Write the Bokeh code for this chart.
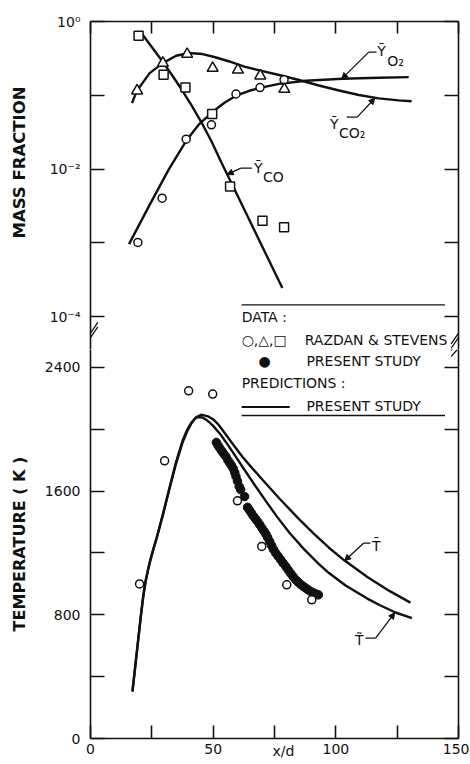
from bokeh.plotting import figure
from bokeh.models import Range1d, FixedTicker, LinearAxis, LogAxis, Label, Arrow, NormalHead
from bokeh.layouts import column
from bokeh.embed import file_html
from bokeh.resources import INLINE

FONT = "DejaVu Sans"

# ---------------- data: mass fractions (Razdan & Stevens) ----------------
x_o2 = [19.3, 29.2, 39.0, 49.3, 59.3, 69.1, 78.9]
y_o2 = [0.00101, 0.00403, 0.0254, 0.0398, 0.104, 0.127, 0.162]
x_co2 = [19.0, 29.5, 39.4, 49.8, 60.1, 69.2, 79.0]
y_co2 = [0.115, 0.273, 0.361, 0.233, 0.221, 0.184, 0.121]
x_co = [19.6, 29.8, 38.7, 49.6, 56.9, 70.1, 78.9]
y_co = [0.64, 0.19, 0.127, 0.0555, 0.0058, 0.00199, 0.00162]

# predictions (present study)
xp_o2 = [15.7, 24.1, 31.8, 39.0, 44.4, 49.8, 54.6, 59.3, 64.7, 69.1, 76.9, 87.7, 102.6, 117.5, 129.7]
yp_o2 = [0.000959, 0.00327, 0.00975, 0.0241, 0.0410, 0.0597, 0.0792, 0.0985, 0.1151, 0.1262,
         0.1429, 0.157, 0.1675, 0.1726, 0.1762]
xp_co2 = [16.9, 18.9, 24.1, 29.5, 34.9, 40.3, 45.6, 50.5, 56.6, 62.7, 68.8, 76.9, 85.0, 93.1,
          101.3, 109.4, 117.5, 125.6, 130.9]
yp_co2 = [0.0783, 0.1148, 0.1995, 0.2729, 0.3428, 0.374, 0.362, 0.330, 0.287, 0.245, 0.217,
          0.188, 0.161, 0.1355, 0.1159, 0.1007, 0.0908, 0.0853, 0.0829]
xp_co = [20.7, 24.9, 29.0, 33.0, 37.1, 41.2, 45.2, 49.3, 53.3, 57.4, 65.5, 73.6, 78.2]
yp_co = [0.697, 0.454, 0.2985, 0.1928, 0.1205, 0.0731, 0.0430, 0.0238, 0.01233, 0.0065,
         0.00181, 0.000504, 0.000244]

# ---------------- data: temperature ----------------
x_t_rs = [20.0, 30.2, 40.0, 49.8, 59.9, 69.8, 80.0, 90.2]
t_rs = [1000, 1796, 2249, 2228, 1537, 1242, 994, 897]

x_t_ps = [51.3, 52.0, 52.7, 53.5, 54.3, 55.2, 56.0, 56.8, 57.5, 58.2, 58.8, 59.3, 59.9, 60.6, 61.2,
          62.8,
          64.0, 64.7, 65.5, 66.3, 67.2, 68.1, 69.0, 69.9, 70.8, 71.5,
          72.2, 73.0, 73.8, 74.6, 75.5, 76.5, 77.5, 78.5, 79.6, 80.6, 81.6, 82.6, 83.7, 84.7,
          85.7, 86.7, 87.7, 88.7, 89.8, 90.8, 91.9, 92.9]
t_ps = [1915, 1895, 1878, 1860, 1842, 1824, 1800, 1780, 1765, 1745, 1720, 1695, 1665, 1630, 1610,
        1565,
        1495, 1479, 1460, 1440, 1422, 1404, 1382, 1360, 1339, 1322,
        1300, 1275, 1248, 1222, 1199, 1178, 1157, 1135, 1113, 1090, 1068, 1047, 1026, 1011,
        996, 984, 973, 962, 951, 942, 935, 929]

xp_tbar = [17.1, 19.0, 20.5, 21.5, 22.5, 23.5, 24.5, 25.5, 27.0, 29.5, 32.2, 34.9, 37.6, 39.5,
           41.0, 43.0, 45.1, 48.0, 50.0, 52.0, 53.5, 55.0, 58.6, 62.0, 65.0, 70.0, 77.0, 85.0,
           91.0, 97.2, 103.3, 113.0, 122.0, 130.4]
tp_tbar = [304, 575, 790, 920, 1020, 1095, 1160, 1218, 1300, 1450, 1622, 1790, 1930, 2000,
           2040, 2078, 2094, 2083, 2064, 2033, 2002, 1970, 1892, 1821, 1765, 1675, 1552, 1419,
           1325, 1234, 1154, 1043, 953, 879]
xp_ttil = [17.1, 19.0, 20.5, 21.5, 22.5, 23.5, 24.5, 25.5, 27.0, 29.5, 32.2, 34.9, 37.6, 39.5,
           41.0, 42.5, 43.7, 45.5, 47.0, 48.5, 50.0, 53.0, 56.0, 59.0, 62.0, 65.0, 68.0, 71.5,
           76.0, 81.0, 87.0, 93.0, 97.2, 104.0, 112.8, 118.0, 124.3, 131.0]
tp_ttil = [304, 575, 790, 920, 1020, 1095, 1160, 1217, 1297, 1445, 1615, 1780, 1918, 1990,
           2035, 2067, 2079, 2076, 2064, 2045, 2022, 1966, 1899, 1828, 1756, 1685, 1615, 1535,
           1435, 1332, 1225, 1130, 1070, 990, 905, 862, 815, 779]

# ---------------- ticks ----------------
x_ticks = [0, 25, 50, 75, 100, 125, 150]
x_labels = {0: "0", 25: "", 50: "50", 75: "", 100: "100", 125: "", 150: "150"}
mf_ticks = [1e-4, 1e-3, 1e-2, 1e-1, 1.0]
mf_labels = {1.0: "10\u2070", 0.1: "", 0.01: "10\u207b\u00b2", 0.001: "", 0.0001: "10\u207b\u2074"}
t_ticks = [0, 400, 800, 1200, 1600, 2000, 2400]
t_labels = {0: "0", 400: "", 800: "800", 1200: "", 1600: "1600", 2000: "", 2400: "2400"}

BLACK = "#111111"
AXW = 1.6
TICK = 14
LW = 2.4
FW = 368


def style_axis(ax, show_labels=True):
    ax.axis_line_color = BLACK
    ax.axis_line_width = AXW
    ax.major_tick_line_color = BLACK
    ax.major_tick_line_width = AXW
    ax.major_tick_in = TICK
    ax.major_tick_out = 0
    ax.minor_tick_line_color = None
    ax.major_label_text_font = FONT
    ax.major_label_text_color = BLACK
    if show_labels:
        ax.major_label_text_font_size = "14px"
    else:
        ax.major_label_text_font_size = "0px"
        ax.major_label_standoff = 0


def lab(p, x, y, text, size="14px", align="left", baseline="middle", style="normal"):
    p.add_layout(Label(x=x, y=y, text=text, text_font=FONT, text_font_size=size,
                       text_align=align, text_baseline=baseline, text_color=BLACK,
                       text_font_style=style))


def leader(p, xe, ye, xk, yk, xt, yt):
    p.line([xe, xk], [ye, yk], line_color=BLACK, line_width=1.3)
    p.add_layout(Arrow(x_start=xk, y_start=yk, x_end=xt, y_end=yt, line_color=BLACK, line_width=1.3,
                       end=NormalHead(size=6, fill_color=BLACK, line_color=BLACK)))


# ================= top panel: mass fraction =================
top = figure(frame_width=FW, frame_height=328,
             x_range=Range1d(0, 150), y_range=Range1d(10 ** -4.447, 1.0),
             y_axis_type="log", x_axis_location="above",
             output_backend="svg", toolbar_location=None,
             min_border_left=90, min_border_right=11, min_border_top=21, min_border_bottom=0)
top.outline_line_color = None
top.grid.visible = False

ax = top.xaxis[0]
ax.ticker = FixedTicker(ticks=x_ticks)
style_axis(ax, show_labels=False)
ax.major_tick_in = 12
ax.major_label_overrides = {k: "" for k in x_ticks}

ay = top.yaxis[0]
ay.ticker = FixedTicker(ticks=mf_ticks)
style_axis(ay)
ay.major_label_overrides = mf_labels
ay.major_label_standoff = 10
ay.axis_label = "\u00a0" * 8 + "MASS FRACTION"
ay.axis_label_text_font = FONT
ay.axis_label_text_font_style = "bold"
ay.axis_label_text_font_size = "16.5px"
ay.axis_label_text_color = BLACK
ay.axis_label_standoff = 18

ry = LogAxis(ticker=FixedTicker(ticks=mf_ticks))
style_axis(ry, show_labels=False)
ry.major_label_overrides = {k: "" for k in mf_ticks}
top.add_layout(ry, "right")

top.line(xp_o2, yp_o2, line_color=BLACK, line_width=LW)
top.line(xp_co2, yp_co2, line_color=BLACK, line_width=LW)
top.line(xp_co, yp_co, line_color=BLACK, line_width=LW)

top.scatter(x_o2, y_o2, marker="circle", size=8, fill_color="white", line_color=BLACK, line_width=1.5)
top.scatter(x_co2, y_co2, marker="triangle", size=11, fill_color="white", line_color=BLACK, line_width=1.5)
top.scatter(x_co, y_co, marker="square", size=9, fill_color="white", line_color=BLACK, line_width=1.5)

# curve labels (top)
leader(top, 116.6, 10 ** -0.415, 113.4, 10 ** -0.415, 102.4, 10 ** -0.778)
lab(top, 116.9, 10 ** -0.40, "\u1ef8")
lab(top, 121.0, 10 ** -0.53, "O\u2082")

leader(top, 104.4, 10 ** -1.296, 108.7, 10 ** -1.296, 115.9, 10 ** -1.040)
lab(top, 97.6, 10 ** -1.39, "\u1ef8")
lab(top, 101.3, 10 ** -1.51, "CO\u2082")

leader(top, 65.8, 10 ** -1.988, 61.3, 10 ** -1.988, 55.7, 10 ** -2.075)
lab(top, 66.6, 10 ** -1.99, "\u1ef8")
lab(top, 70.3, 10 ** -2.11, "CO")

# legend (upper part)
top.line([61.6, 144.5], [10 ** -3.841, 10 ** -3.841], line_color=BLACK, line_width=1.3)
lab(top, 61.6, 10 ** -4.0, "DATA :")
lab(top, 61.6, 10 ** -4.323, "\u25cb,\u25b3,\u25a1")
lab(top, 87.3, 10 ** -4.323, "RAZDAN & STEVENS")

# axis-break marks (the part inside the frame)
for dx in (0.0, 150.0):
    for dy in (0.0, 0.06):
        top.line([dx - 3.0, dx + 3.0], [10 ** (-4.43 + dy), 10 ** (-4.14 + dy)],
                 line_color=BLACK, line_width=1.3)

# ================= bottom panel: temperature =================
bot = figure(frame_width=FW, frame_height=389,
             x_range=Range1d(0, 150), y_range=Range1d(0, 2516),
             output_backend="svg", toolbar_location=None,
             min_border_left=90, min_border_right=11, min_border_top=0, min_border_bottom=25)
bot.outline_line_color = None
bot.grid.visible = False

bx = bot.xaxis[0]
bx.ticker = FixedTicker(ticks=x_ticks)
style_axis(bx)
bx.major_tick_in = 13
bx.major_label_overrides = x_labels
bx.major_label_standoff = 5
bx.axis_label = "\u00a0" * 4 + "x/d"
bx.axis_label_text_font = FONT
bx.axis_label_text_font_style = "normal"
bx.axis_label_text_font_size = "14px"
bx.axis_label_text_color = BLACK
bx.axis_label_standoff = -14

by = bot.yaxis[0]
by.ticker = FixedTicker(ticks=t_ticks)
style_axis(by)
by.major_label_overrides = t_labels
by.major_label_standoff = 10
by.axis_label = "TEMPERATURE ( K )"
by.axis_label_text_font = FONT
by.axis_label_text_font_style = "bold"
by.axis_label_text_font_size = "16px"
by.axis_label_text_color = BLACK
by.axis_label_standoff = 13

rby = LinearAxis(ticker=FixedTicker(ticks=t_ticks))
style_axis(rby, show_labels=False)
rby.major_label_overrides = {k: "" for k in t_ticks}
bot.add_layout(rby, "right")

bot.line(xp_tbar, tp_tbar, line_color=BLACK, line_width=LW)
bot.line(xp_ttil, tp_ttil, line_color=BLACK, line_width=LW)
bot.scatter(x_t_ps, t_ps, marker="circle", size=8.5, fill_color=BLACK, line_color=BLACK, line_width=1)
bot.scatter(x_t_rs, t_rs, marker="circle", size=8, fill_color="white", line_color=BLACK, line_width=1.5)

leader(bot, 114.1, 1264, 111.4, 1264, 103.6, 1150)
lab(bot, 114.7, 1245, "T\u0304")
leader(bot, 112.1, 649, 116.2, 649, 124.0, 813)
lab(bot, 111.3, 640, "T\u0303", align="right")

# legend (lower part)
lab(bot, 71.0, 2440, "\u25cf", align="center")
lab(bot, 88.0, 2440, "PRESENT STUDY")
lab(bot, 61.6, 2298, "PREDICTIONS :")
bot.line([61.6, 81.2], [2144, 2144], line_color=BLACK, line_width=2.2)
lab(bot, 88.0, 2149, "PRESENT STUDY")
bot.line([61.6, 144.5], [2089, 2089], line_color=BLACK, line_width=1.3)

# axis-break marks (lower part)
for dx in (0.0, 150.0):
    for dy in (0.0, 40.0):
        bot.line([dx - 3.0, dx + 3.0], [2470 + dy, 2580 + dy], line_color=BLACK, line_width=1.3)

layout = column(top, bot, spacing=0)
open("out.html", "w").write(file_html(layout, INLINE))
